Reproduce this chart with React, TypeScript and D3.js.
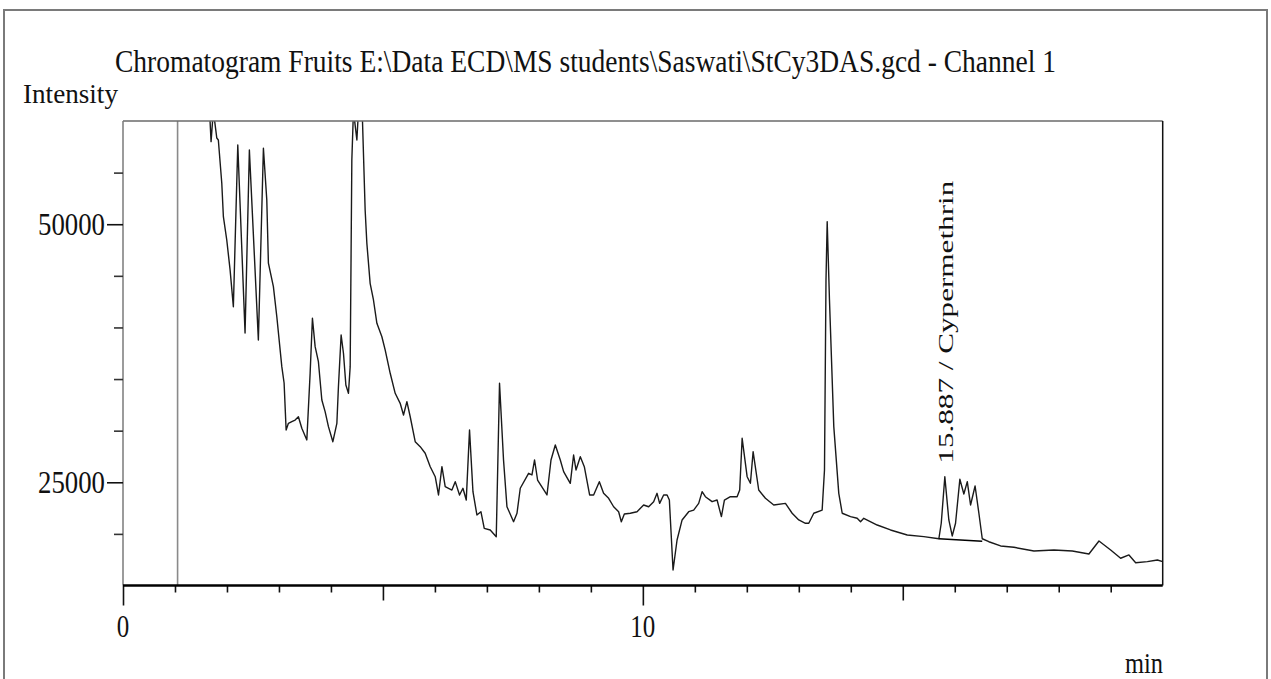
import React, { useRef, useEffect } from 'react';
import * as d3 from 'd3';

// retention time (min), intensity
const signal: [number, number][] = [
    [1.655, 62000], [1.694, 58000], [1.738, 61000], [1.804, 58350], [1.834, 58160],
    [1.900, 54000], [1.931, 50730], [1.996, 48470], [2.060, 45570], [2.123, 42010],
    [2.208, 57680], [2.348, 39460], [2.431, 57190], [2.604, 38780], [2.701, 57360],
    [2.766, 52350], [2.797, 46240], [2.893, 43950], [2.959, 41040], [3.055, 36200],
    [3.099, 34620], [3.138, 30070], [3.182, 30710], [3.247, 30870], [3.311, 31030],
    [3.374, 31350], [3.440, 30230], [3.536, 29100], [3.600, 35590], [3.644, 40890],
    [3.696, 38140], [3.759, 36680], [3.825, 32970], [3.888, 31840], [3.952, 30390],
    [4.037, 28930], [4.114, 30710], [4.144, 34260], [4.196, 39270], [4.241, 37500],
    [4.287, 34420], [4.337, 33620], [4.370, 36200], [4.402, 56220], [4.433, 61000],
    [4.499, 58160], [4.529, 61000], [4.601, 61000], [4.658, 51380], [4.691, 48150],
    [4.754, 44280], [4.818, 42660], [4.884, 40400], [4.980, 39100], [5.043, 37820],
    [5.140, 35560], [5.236, 33620], [5.332, 32650], [5.396, 31520], [5.461, 32810],
    [5.525, 31350], [5.621, 28930], [5.717, 28450], [5.813, 27810], [5.910, 26510],
    [6.006, 25540], [6.069, 23770], [6.135, 26510], [6.198, 24570], [6.327, 24250],
    [6.391, 25060], [6.474, 23770], [6.539, 24420], [6.603, 23280], [6.666, 30070],
    [6.732, 24090], [6.808, 21830], [6.885, 22150], [6.949, 20540], [7.064, 20380],
    [7.180, 19730], [7.243, 34590], [7.320, 27160], [7.386, 22630], [7.513, 21180],
    [7.579, 22000], [7.642, 24420], [7.802, 25870], [7.867, 25710], [7.917, 27160],
    [7.975, 25220], [8.156, 23770], [8.233, 27160], [8.316, 28610], [8.412, 27160],
    [8.476, 26030], [8.604, 24900], [8.668, 27640], [8.714, 26190], [8.797, 27480],
    [8.874, 26510], [8.976, 23770], [9.053, 23770], [9.163, 25060], [9.245, 23930],
    [9.342, 23450], [9.438, 22630], [9.534, 22150], [9.586, 21180], [9.644, 21930],
    [9.759, 22000], [9.888, 22150], [10.015, 22800], [10.112, 22630], [10.208, 23120],
    [10.273, 23930], [10.323, 22960], [10.400, 23770], [10.466, 23770], [10.510, 23280],
    [10.581, 16500], [10.658, 19410], [10.755, 21350], [10.882, 22150], [10.978, 22310],
    [11.074, 22960], [11.140, 24090], [11.203, 23600], [11.332, 23120], [11.428, 23280],
    [11.511, 21670], [11.569, 23280], [11.684, 23600], [11.813, 23600], [11.863, 24250],
    [11.910, 29260], [12.006, 25540], [12.069, 24900], [12.121, 27960], [12.229, 24250],
    [12.358, 23450], [12.518, 22800], [12.743, 22960], [12.872, 22000], [12.999, 21350],
    [13.128, 21030], [13.192, 21030], [13.288, 22000], [13.449, 22310], [13.494, 26190],
    [13.523, 44600], [13.546, 50250], [13.590, 42660], [13.673, 30390], [13.769, 23930],
    [13.835, 22000], [13.995, 21670], [14.123, 21510], [14.187, 21180], [14.250, 21510],
    [14.508, 20860], [14.764, 20380], [15.086, 19890], [15.405, 19730], [15.694, 19530],
    [15.740, 21030], [15.809, 25540], [15.886, 21350], [15.951, 19800], [16.015, 21030],
    [16.098, 25290], [16.175, 23870], [16.241, 25060], [16.304, 22800], [16.391, 24640],
    [16.464, 22000], [16.529, 19530], [16.656, 19240], [16.882, 18830], [17.138, 18700],
    [17.523, 18340], [17.908, 18440], [18.262, 18340], [18.581, 18050], [18.774, 19310],
    [18.999, 18440], [19.191, 17640], [19.351, 17960], [19.480, 17210], [19.705, 17310],
    [19.898, 17470], [20.0, 17310],
];

// integration baseline drawn under the Cypermethrin peaks
const cypBaseline: [number, number][] = [[15.694, 19530], [16.529, 19290]];
const solventFront = 1.05;

const xLabelTicks = [0, 10];
const xMidTicks = [5, 15];
const yLabelTicks = [25000, 50000];

const peakTime = 15.887;
const peakTop = 25540;
const peakLabel = '15.887 / Cypermethrin';
const title = 'Chromatogram Fruits E:\\Data ECD\\MS students\\Saswati\\StCy3DAS.gcd - Channel 1';

const FONT = "'Liberation Serif', 'Times New Roman', serif";

const drawChart = (svg: d3.Selection<SVGSVGElement, unknown, null, undefined>) => {
    const m = { left: 123, right: 1162.7, top: 121, bottom: 585.5 };

    svg.selectAll('*').remove();

    const x = d3.scaleLinear().domain([0, 20]).range([m.left, m.right]);
    const y = d3.scaleLinear().domain([15000, 60000]).range([m.bottom, m.top]);

    // outer frame (bottom edge is cut off)
    svg.append('path')
        .attr('d', 'M4,679 L4,10 L1267,10 L1267,679')
        .attr('fill', 'none')
        .attr('stroke', '#7a7a7a')
        .attr('stroke-width', 2);

    svg.append('text')
        .attr('x', 115).attr('y', 72)
        .attr('font-family', FONT).attr('font-size', 31).attr('fill', '#111')
        .attr('textLength', 941).attr('lengthAdjust', 'spacingAndGlyphs')
        .text(title);

    svg.append('text')
        .attr('x', 23).attr('y', 103)
        .attr('font-family', FONT).attr('font-size', 27).attr('fill', '#111')
        .attr('textLength', 95).attr('lengthAdjust', 'spacingAndGlyphs')
        .text('Intensity');

    svg.append('defs').append('clipPath').attr('id', 'plot-clip')
        .append('rect')
        .attr('x', m.left).attr('y', m.top)
        .attr('width', m.right - m.left).attr('height', m.bottom - m.top);

    // solvent front
    svg.append('line')
        .attr('x1', x(solventFront)).attr('x2', x(solventFront))
        .attr('y1', m.top).attr('y2', m.bottom)
        .attr('stroke', '#8a8a8a').attr('stroke-width', 1.6);

    const line = d3.line<[number, number]>()
        .x(d => x(d[0]))
        .y(d => y(d[1]));

    const plot = svg.append('g').attr('clip-path', 'url(#plot-clip)');
    plot.append('path')
        .datum(signal)
        .attr('d', line)
        .attr('fill', 'none')
        .attr('stroke', '#1a1a1a')
        .attr('stroke-width', 1.4)
        .attr('stroke-linejoin', 'round');

    plot.append('path')
        .datum(cypBaseline)
        .attr('d', line)
        .attr('fill', 'none')
        .attr('stroke', '#000')
        .attr('stroke-width', 1.4);

    // plot frame
    svg.append('line').attr('x1', m.left).attr('x2', m.right).attr('y1', m.top).attr('y2', m.top)
        .attr('stroke', '#6a6a6a').attr('stroke-width', 1.5);
    svg.append('line').attr('x1', m.left).attr('x2', m.left).attr('y1', m.top).attr('y2', m.bottom)
        .attr('stroke', '#7a7a7a').attr('stroke-width', 1.5);
    svg.append('line').attr('x1', m.right).attr('x2', m.right).attr('y1', m.top).attr('y2', m.bottom)
        .attr('stroke', '#111').attr('stroke-width', 1.5);

    // x ticks
    const minorX = d3.range(1, 20).filter(v => v % 5 !== 0);
    const addXTicks = (values: number[], size: number) => {
        const g = svg.append('g')
            .attr('transform', `translate(0,${m.bottom})`)
            .attr('color', '#111')
            .call(d3.axisBottom(x).tickValues(values).tickSize(size).tickFormat(() => ''));
        g.select('.domain').remove();
        g.selectAll('.tick line').attr('stroke-width', 1.6);
    };
    addXTicks(minorX, 7);
    addXTicks(xMidTicks, 15);
    addXTicks(xLabelTicks, 20);

    svg.append('line').attr('x1', m.left).attr('x2', m.right).attr('y1', m.bottom).attr('y2', m.bottom)
        .attr('stroke', '#000').attr('stroke-width', 2.6);

    svg.selectAll('.xlab')
        .data(xLabelTicks)
        .enter().append('text')
        .attr('class', 'xlab')
        .attr('x', d => x(d)).attr('y', 637)
        .attr('text-anchor', 'middle')
        .attr('font-family', FONT).attr('font-size', 31).attr('fill', '#111')
        .attr('textLength', d => String(d).length * 12.5).attr('lengthAdjust', 'spacingAndGlyphs')
        .text(d => String(d));

    svg.append('text')
        .attr('x', 1163).attr('y', 673)
        .attr('text-anchor', 'end')
        .attr('font-family', FONT).attr('font-size', 29).attr('fill', '#111')
        .attr('textLength', 38).attr('lengthAdjust', 'spacingAndGlyphs')
        .text('min');

    // y ticks
    const minorY = d3.range(20000, 60000, 5000).filter(v => !yLabelTicks.includes(v));
    const addYTicks = (values: number[], size: number, color: string) => {
        const g = svg.append('g')
            .attr('transform', `translate(${m.left},0)`)
            .attr('color', color)
            .call(d3.axisLeft(y).tickValues(values).tickSize(size).tickFormat(() => ''));
        g.select('.domain').remove();
        g.selectAll('.tick line').attr('stroke-width', 1.6);
    };
    addYTicks(minorY, 9, '#333');
    addYTicks(yLabelTicks, 16, '#111');

    svg.selectAll('.ylab')
        .data(yLabelTicks)
        .enter().append('text')
        .attr('class', 'ylab')
        .attr('x', 105).attr('y', d => y(d) + 11)
        .attr('text-anchor', 'end')
        .attr('font-family', FONT).attr('font-size', 31).attr('fill', '#111')
        .attr('textLength', 67).attr('lengthAdjust', 'spacingAndGlyphs')
        .text(d => String(d));

    // peak annotation
    svg.append('text')
        .attr('transform', `translate(${x(peakTime) + 4},${y(peakTop) - 13}) rotate(-90)`)
        .attr('font-family', FONT).attr('font-size', 22).attr('fill', '#111')
        .attr('textLength', 283).attr('lengthAdjust', 'spacingAndGlyphs')
        .text(peakLabel);
};

const Chromatogram: React.FC = () => {
    const ref = useRef<SVGSVGElement>(null);

    useEffect(() => {
        if (ref.current) {
            drawChart(d3.select(ref.current));
        }
    }, []);

    return (
        <svg
            ref={ref}
            width={1271}
            height={679}
            style={{ position: 'absolute', left: 0, top: 0, background: '#fff' }}
        />
    );
};

export default function App() {
    return <Chromatogram />;
}
